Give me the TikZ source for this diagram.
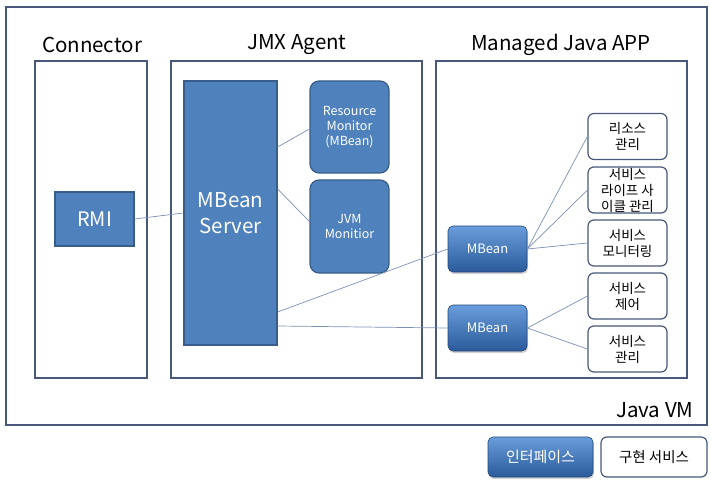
\documentclass[tikz,border=0pt]{standalone}
\usepackage{fontspec}
\usetikzlibrary{shadows}
\setmainfont{Noto Sans CJK KR}
\definecolor{mfill}{HTML}{4F81BD}
\definecolor{mdraw}{HTML}{385D8A}
\definecolor{frame}{HTML}{47587A}
\definecolor{wire}{HTML}{7890B4}
\definecolor{gtop}{HTML}{6A9DDB}
\definecolor{gbot}{HTML}{2A5A9A}
\begin{document}
\begin{tikzpicture}[x=1pt,y=-1pt,
  frm/.style={draw=frame,line width=1.4pt},
  title/.style={font=\fontsize{20.5}{22}\selectfont},
  sq/.style={draw=mdraw,line width=1.2pt,fill=mfill,text=white,inner sep=0pt,align=center},
  rnd/.style={sq,rounded corners=9pt},
  grad/.style={draw=gbot!80!black,line width=0.6pt,rounded corners=5pt,top color=gtop,bottom color=gbot,text=white,inner sep=0pt,
    minimum width=79pt,minimum height=46pt,font=\fontsize{13}{15}\selectfont,
    drop shadow={shadow xshift=1pt,shadow yshift=-2pt,opacity=0.35}},
  wbox/.style={draw=frame,line width=1.2pt,rounded corners=6pt,fill=white,inner sep=0pt,align=center,
    minimum width=79pt,minimum height=46pt,font=\fontsize{13.5}{16}\selectfont},
  wl/.style={draw=wire,line width=0.7pt}
]
\useasboundingbox (0,0) rectangle (711,486);
% frames
\draw[frm] (6,7) rectangle (707,425);
\draw[frm] (35,61) rectangle (147,378);
\draw[frm] (171,61) rectangle (422,378);
\draw[frm] (436,61) rectangle (687,378);
\node[title] (tcon) at (92,45) {Connector};
\node[title] (tjmx) at (297,45) {JMX Agent};
\node[title] (tapp) at (561,45) {Managed Java APP};
\node[title,anchor=east] (tvm) at (697,410) {Java VM};
% connector / agent
\node[sq,minimum width=79pt,minimum height=54pt,font=\fontsize{20}{22}\selectfont] (rmi) at (94.5,219) {RMI};
\node[sq,minimum width=93pt,minimum height=264pt,font=\fontsize{20.5}{26}\selectfont] (srv) at (230.5,213) {MBean\\Server};
\node[rnd,minimum width=79pt,minimum height=92pt,font=\fontsize{12.5}{15}\selectfont] (res) at (349.5,127) {Resource\\Monitor\\(MBean)};
\node[rnd,minimum width=79pt,minimum height=93pt,font=\fontsize{12.5}{15}\selectfont] (jvm) at (349.5,226.5) {JVM\\Monitior};
% app
\node[grad] (mb1) at (487.5,249) {MBean};
\node[grad] (mb2) at (487.5,328) {MBean};
\node[wbox] (b1) at (627.5,136.5) {리소스\\관리};
\node[wbox] (b2) at (627.5,190) {서비스\\라이프 사\\이클 관리};
\node[wbox] (b3) at (627.5,243) {서비스\\모니터링};
\node[wbox] (b4) at (627.5,296) {서비스\\제어};
\node[wbox] (b5) at (627.5,349) {서비스\\관리};
% legend
\node[grad,minimum width=105pt,minimum height=40pt,font=\fontsize{15}{17}\selectfont] (lint) at (540.5,457) {인터페이스};
\node[wbox,minimum width=106pt,minimum height=40pt,font=\fontsize{14.5}{17}\selectfont] (limp) at (654,457) {구현 서비스};
% wires
\draw[wl] (rmi.east) -- (srv.west);
\draw[wl] ([yshift=66pt]srv.east) -- ([yshift=-2pt]res.west);
\draw[wl] ([yshift=24pt]srv.east) -- ([yshift=5pt]jvm.west);
\draw[wl] ([yshift=-99pt]srv.east) -- (mb1.west);
\draw[wl] ([yshift=-113pt]srv.east) -- (mb2.west);
\draw[wl] (mb1.east) -- (b1.west);
\draw[wl] (mb1.east) -- (b2.west);
\draw[wl] (mb1.east) -- (b3.west);
\draw[wl] (mb2.east) -- (b4.west);
\draw[wl] (mb2.east) -- (b5.west);
\end{tikzpicture}
\end{document}
